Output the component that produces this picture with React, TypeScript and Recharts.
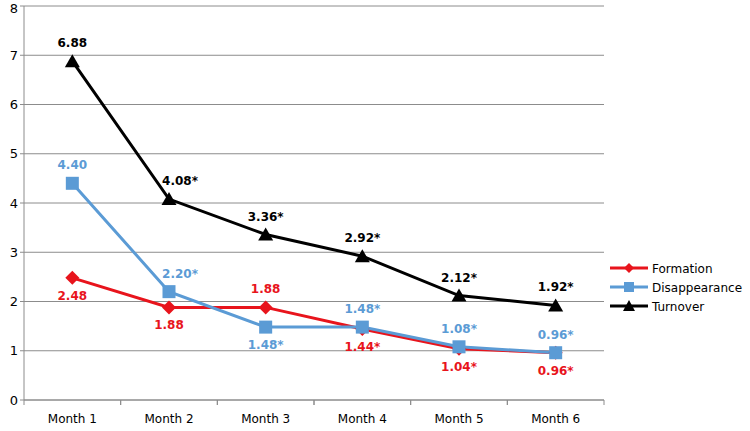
import { LineChart, Line, XAxis, YAxis, CartesianGrid, Legend } from 'recharts';

const months = ['Month 1', 'Month 2', 'Month 3', 'Month 4', 'Month 5', 'Month 6'];
const formation = [2.48, 1.88, 1.88, 1.44, 1.04, 0.96];
const disappearance = [4.4, 2.2, 1.48, 1.48, 1.08, 0.96];
const turnover = [6.88, 4.08, 3.36, 2.92, 2.12, 1.92];
// label text shown next to each point (* = significant)
const formationLabels = ['2.48', '1.88', '1.88', '1.44*', '1.04*', '0.96*'];
const disappearanceLabels = ['4.40', '2.20*', '1.48*', '1.48*', '1.08*', '0.96*'];
const turnoverLabels = ['6.88', '4.08*', '3.36*', '2.92*', '2.12*', '1.92*'];
const yTicks = [0, 1, 2, 3, 4, 5, 6, 7, 8];

// where each label sits relative to its point
const formationSide = ['below', 'below', 'above', 'below', 'below', 'below'];
const disappearanceSide = ['above', 'above', 'below', 'above', 'above', 'above'];
const turnoverSide = ['above', 'above', 'above', 'above', 'above', 'above'];
// a few labels were nudged sideways in the original
const formationNudge = [0, 0, 0, 0, 0, 0];
const disappearanceNudge = [0, 11, 0, 0, 0, 0];
const turnoverNudge = [0, 11, 0, 0, 0, 0];

const RED = '#e8141c';
const BLUE = '#5b9bd5';
const BLACK = '#000000';
const AXIS = '#8c8c8c';
const FONT = '"DejaVu Sans", Verdana, sans-serif';
const HALF_BAND = 580 / 12;

const data = months.map((m, i) => ({
  month: m,
  formation: formation[i],
  disappearance: disappearance[i],
  turnover: turnover[i],
}));

const Diamond = ({ cx, cy }: any) => (
  <path d={`M${cx},${cy - 7}L${cx + 7},${cy}L${cx},${cy + 7}L${cx - 7},${cy}Z`} fill={RED} />
);
const Square = ({ cx, cy }: any) => (
  <rect x={cx - 6.5} y={cy - 6.5} width={13} height={13} fill={BLUE} />
);
const Triangle = ({ cx, cy }: any) => (
  <path d={`M${cx},${cy - 7}L${cx + 7.5},${cy + 6}L${cx - 7.5},${cy + 6}Z`} fill={BLACK} />
);

const makeLabel = (texts: string[], sides: string[], nudge: number[], color: string) => (props: any) => {
  const { x, y, index } = props;
  const dy = sides[index] === 'above' ? -14 : 22;
  return (
    <text
      x={x + nudge[index]}
      y={y + dy}
      textAnchor="middle"
      fill={color}
      fontSize={12}
      fontWeight="bold"
      fontFamily={FONT}
    >
      {texts[index]}
    </text>
  );
};

// category label plus tick marks at the band edges, like Excel
const MonthTick = ({ x, y, payload }: any) => (
  <g>
    <line x1={x - HALF_BAND} x2={x - HALF_BAND} y1={y - 8} y2={y - 3} stroke={AXIS} />
    <line x1={x + HALF_BAND} x2={x + HALF_BAND} y1={y - 8} y2={y - 3} stroke={AXIS} />
    <text x={x} y={y + 15} textAnchor="middle" fill="#000" fontSize={12} fontFamily={FONT}>
      {payload.value}
    </text>
  </g>
);

const legendItems = [
  { name: 'Formation', color: RED, icon: 'diamond' },
  { name: 'Disappearance', color: BLUE, icon: 'square' },
  { name: 'Turnover', color: BLACK, icon: 'triangle' },
];

const LegendContent = () => (
  <svg width={145} height={60}>
    {legendItems.map((it, i) => {
      const y = 10 + i * 19;
      return (
        <g key={it.name}>
          <line x1={2} x2={40} y1={y} y2={y} stroke={it.color} strokeWidth={3} />
          {it.icon === 'diamond' && <path d={`M21,${y - 5}L26,${y}L21,${y + 5}L16,${y}Z`} fill={it.color} />}
          {it.icon === 'square' && <rect x={16} y={y - 5} width={10} height={10} fill={it.color} />}
          {it.icon === 'triangle' && <path d={`M21,${y - 6}L27,${y + 5}L15,${y + 5}Z`} fill={it.color} />}
          <text x={44} y={y + 4.5} fontSize={12} fontFamily={FONT} fill="#000">{it.name}</text>
        </g>
      );
    })}
  </svg>
);

export default function App() {
  return (
    <div style={{ position: 'absolute', left: 0, top: 0, background: '#fff' }}>
      <LineChart width={750} height={431} data={data} margin={{ top: 6, right: 1, bottom: 0, left: 0 }}>
        <CartesianGrid vertical={false} stroke={AXIS} strokeWidth={1} />
        <XAxis
          dataKey="month"
          height={31}
          padding={{ left: HALF_BAND, right: HALF_BAND }}
          axisLine={{ stroke: AXIS }}
          tickLine={false}
          tick={<MonthTick />}
          interval={0}
        />
        <YAxis
          width={24}
          domain={[0, 8]}
          ticks={yTicks}
          axisLine={{ stroke: AXIS }}
          tickLine={{ stroke: AXIS }}
          tickSize={4}
          tick={{ fill: '#000', fontSize: 13, fontFamily: FONT }}
        />
        <Legend
          layout="vertical"
          align="right"
          verticalAlign="top"
          wrapperStyle={{ left: 608, top: 258, width: 145 }}
          content={<LegendContent />}
        />
        <Line
          dataKey="formation"
          stroke={RED}
          strokeWidth={3}
          dot={<Diamond />}
          activeDot={false}
          label={makeLabel(formationLabels, formationSide, formationNudge, RED)}
          isAnimationActive={false}
        />
        <Line
          dataKey="disappearance"
          stroke={BLUE}
          strokeWidth={3}
          dot={<Square />}
          activeDot={false}
          label={makeLabel(disappearanceLabels, disappearanceSide, disappearanceNudge, BLUE)}
          isAnimationActive={false}
        />
        <Line
          dataKey="turnover"
          stroke={BLACK}
          strokeWidth={3}
          dot={<Triangle />}
          activeDot={false}
          label={makeLabel(turnoverLabels, turnoverSide, turnoverNudge, BLACK)}
          isAnimationActive={false}
        />
      </LineChart>
    </div>
  );
}
